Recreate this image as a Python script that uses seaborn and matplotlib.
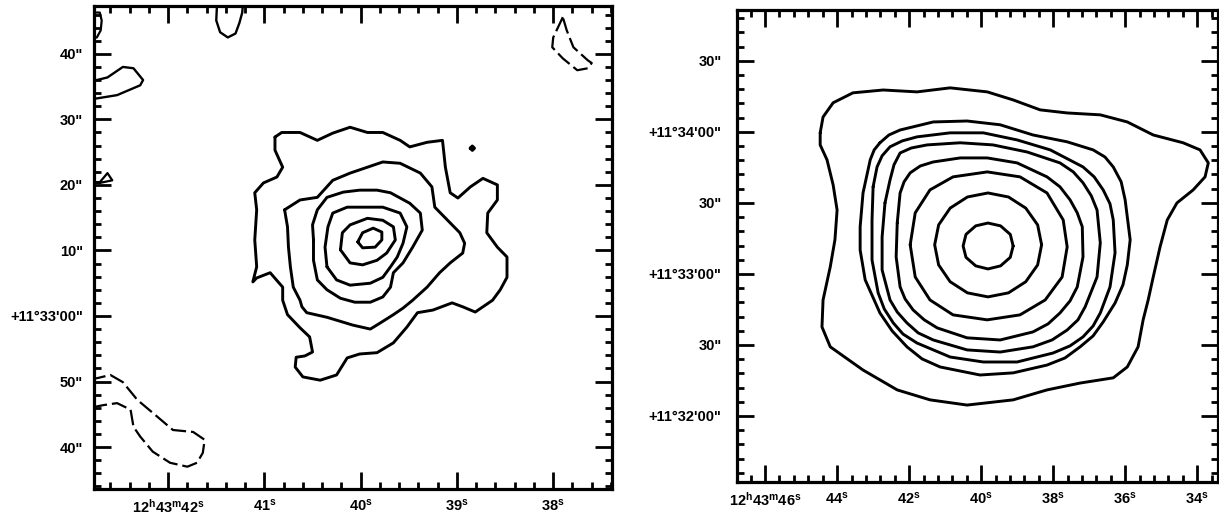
import matplotlib
matplotlib.use("Agg")
import matplotlib.pyplot as plt
from matplotlib.ticker import FixedLocator, FixedFormatter, MultipleLocator
import seaborn as sns

# ---------------- DATA ----------------
# RA in seconds of 12h43m, Dec in arcsec offset from +11d33m00s

l1_ra = [40.89, 40.82, 40.63, 40.45, 40.29, 40.11, 39.93, 39.77, 39.59, 39.49, 39.31, 39.15, 39.12, 39.07, 38.99,
         38.86, 38.73, 38.58, 38.58, 38.68, 38.69, 38.58, 38.48, 38.48, 38.55, 38.63, 38.81, 38.94, 39.05, 39.25,
         39.41, 39.52, 39.66, 39.83, 40.01, 40.14, 40.25, 40.42, 40.60, 40.68, 40.67, 40.58, 40.50, 40.53, 40.63,
         40.76, 40.81, 40.81, 40.94, 41.08, 41.12, 41.08, 41.10, 41.08, 41.10, 41.01, 40.87, 40.81, 40.89]
l1_dec = [27.3, 28.0, 28.0, 26.8, 27.9, 28.8, 28.0, 28.0, 26.8, 25.8, 26.5, 26.8, 22.7, 18.8, 18.0,
          19.7, 21.0, 20.0, 17.7, 15.7, 12.7, 10.5, 9.0, 5.9, 4.0, 2.4, 0.6, 1.4, 2.0, 0.9,
          0.5, -1.7, -4.1, -5.6, -5.8, -6.4, -9.0, -9.8, -9.3, -7.8, -6.3, -6.1, -5.5, -3.2, -1.8,
          0.2, 2.4, 4.4, 6.6, 5.8, 5.2, 7.5, 11.6, 16.2, 18.8, 20.3, 21.2, 22.7, 25.3]

l2_ra = [40.79, 40.63, 40.45, 40.29, 40.11, 39.93, 39.77, 39.59, 39.38, 39.26, 39.23, 39.07, 38.97, 38.92, 38.94,
         39.07, 39.18, 39.31, 39.46, 39.56, 39.66, 39.80, 39.90, 40.08, 40.35, 40.56, 40.61, 40.63, 40.70, 40.73,
         40.75, 40.76]
l2_dec = [16.2, 17.7, 18.1, 20.7, 21.8, 22.7, 23.5, 23.3, 21.8, 19.7, 16.6, 14.2, 12.7, 11.1, 9.6,
          8.1, 6.6, 4.4, 2.4, 1.2, 0.2, -1.1, -2.0, -1.4, -0.2, 0.5, 1.4, 2.4, 4.4, 7.5,
          10.5, 13.6]

l3_ra = [40.49, 40.50, 40.45, 40.35, 40.18, 40.01, 39.83, 39.69, 39.49, 39.38, 39.36, 39.46, 39.56, 39.66, 39.69,
         39.77, 39.90, 40.06, 40.21, 40.35, 40.45, 40.49]
l3_dec = [11.6, 13.9, 16.2, 18.1, 18.9, 19.2, 19.2, 18.8, 17.2, 15.7, 13.1, 10.5, 8.1, 6.6, 4.4,
          2.9, 2.1, 2.1, 2.7, 4.0, 5.5, 8.5]

l4_ra = [40.35, 40.37, 40.34, 40.29, 40.14, 39.93, 39.77, 39.59, 39.52, 39.56, 39.62, 39.69, 39.77, 39.90, 40.11, 40.25]
l4_dec = [7.5, 10.5, 13.6, 15.7, 16.6, 16.6, 16.6, 15.7, 13.6, 11.1, 9.0, 7.5, 5.9, 5.0, 4.7, 5.5]

l5_ra = [40.21, 40.19, 40.11, 39.93, 39.77, 39.66, 39.64, 39.73, 39.83, 39.98, 40.11]
l5_dec = [10.1, 12.7, 13.9, 14.9, 14.6, 13.6, 11.6, 9.6, 8.5, 7.8, 8.1]

l6_ra = [40.03, 39.98, 39.87, 39.78, 39.78, 39.85, 39.98]
l6_dec = [11.3, 12.7, 13.4, 12.8, 11.6, 10.5, 10.4]

dot_ra = [38.86, 38.84, 38.82, 38.84]
dot_dec = [25.6, 25.9, 25.6, 25.3]

top_blob_ra = [41.49, 41.50, 41.46, 41.38, 41.30, 41.26, 41.23, 41.22]
top_blob_dec = [48.2, 45.1, 43.3, 42.5, 43.1, 44.7, 46.3, 48.2]

edge_blob_ra = [42.81, 42.74, 42.63, 42.47, 42.36, 42.26, 42.29, 42.53, 42.74, 42.81]
edge_blob_dec = [36.0, 36.0, 36.4, 38.0, 37.8, 36.0, 35.2, 33.7, 33.2, 33.1]

edge_tri_ra = [42.81, 42.71, 42.63, 42.58, 42.71, 42.81]
edge_tri_dec = [20.4, 20.4, 21.8, 20.7, 20.3, 20.3]

corner_ra = [42.81, 42.71, 42.69, 42.70, 42.74, 42.81]
corner_dec = [46.3, 46.3, 45.1, 43.6, 42.5, 42.4]

neg_bl_ra = [42.81, 42.74, 42.60, 42.47, 42.32, 42.11, 41.95, 41.74, 41.62, 41.64,
             41.70, 41.80, 41.98, 42.16, 42.29, 42.36, 42.39, 42.53, 42.67, 42.81]
neg_bl_dec = [-9.5, -9.5, -9.0, -10.1, -12.8, -15.4, -17.4, -17.7, -18.9, -20.9,
              -22.4, -23.0, -22.4, -20.7, -18.4, -16.9, -14.3, -13.3, -13.6, -14.0]

neg_tr_ra = [37.90, 38.00, 38.01, 37.90, 37.75, 37.64, 37.60, 37.64, 37.79, 37.86]
neg_tr_dec = [45.6, 42.5, 41.0, 39.3, 37.5, 37.8, 38.6, 39.0, 41.0, 43.6]

# Right panel
r1_ra = [44.47, 44.39, 44.11, 43.56, 42.72, 41.78, 40.86, 39.83, 39.11, 38.36, 37.61, 36.69, 35.94, 35.22, 34.39,
         33.92, 33.69, 33.78, 34.11, 34.56, 34.83, 35.03, 35.22, 35.36, 35.50, 35.64, 35.94, 36.33, 37.25, 38.17,
         39.11, 40.39, 41.42, 42.33, 43.28, 44.19, 44.42, 44.39, 44.19, 44.06, 44.00, 44.11, 44.28, 44.47]
r1_dec = [59.6, 66.3, 72.3, 76.5, 77.7, 76.9, 78.6, 76.9, 73.5, 69.3, 68.0, 67.2, 64.2, 58.7, 55.4,
          52.4, 46.9, 41.0, 35.5, 30.0, 22.8, 11.4, -1.3, -11.0, -19.4, -30.8, -39.3, -43.9, -46.1, -49.0,
          -53.2, -55.4, -53.2, -49.0, -40.6, -30.8, -22.4, -11.0, 3.0, 14.4, 27.0, 37.6, 48.2, 54.5]

r2_ra = [42.81, 42.56, 42.25, 41.33, 40.39, 39.47, 38.56, 37.61, 36.89, 36.56, 36.33, 36.11, 36.00, 35.86,
         35.94, 36.06, 36.28, 36.61, 36.89, 37.25, 37.67, 38.17, 39.11, 40.03, 41.14, 41.64, 42.06, 42.47,
         42.81, 43.22, 43.36, 43.36, 43.28, 43.08, 42.97]
r2_dec = [55.4, 58.7, 60.8, 64.2, 64.6, 63.0, 58.7, 55.8, 52.4, 49.4, 45.2, 38.9, 31.3, 14.4,
          3.8, -4.6, -12.3, -20.3, -26.2, -30.8, -35.5, -38.5, -41.8, -42.7, -39.3, -35.9, -30.8, -24.1,
          -16.5, -2.5, 10.1, 19.9, 34.2, 48.2, 52.4]

r3_ra = [43.00, 42.89, 42.75, 42.53, 42.19, 41.78, 40.86, 39.94, 39.00, 38.08, 37.17, 36.86, 36.61, 36.42,
         36.33, 36.28, 36.42, 36.69, 36.89, 37.17, 37.53, 38.00, 39.00, 39.94, 40.86, 41.78, 42.17, 42.44,
         42.69, 42.86, 43.03, 43.03]
r3_dec = [36.8, 45.2, 49.9, 53.7, 56.2, 57.9, 59.6, 59.6, 56.6, 52.4, 45.2, 41.0, 35.5, 29.6,
          22.8, 8.9, -5.5, -16.5, -22.0, -26.6, -30.4, -33.4, -37.2, -37.2, -35.1, -29.2, -25.4, -20.7,
          -14.8, -8.0, 5.9, 22.8]

r4_ra = [42.67, 42.53, 42.42, 42.25, 41.94, 41.50, 40.58, 39.67, 38.72, 37.81, 37.44, 37.17, 36.94, 36.78,
         36.69, 36.78, 37.11, 37.31, 37.61, 38.03, 38.56, 39.47, 40.39, 41.33, 41.75, 42.06, 42.33, 42.53,
         42.75, 42.75]
r4_dec = [30.0, 39.7, 46.1, 51.1, 53.2, 54.5, 55.4, 54.5, 51.5, 46.9, 43.1, 38.5, 33.0, 27.0,
          13.1, -1.3, -13.9, -19.4, -23.7, -27.9, -30.8, -33.0, -32.1, -27.9, -24.9, -20.7, -16.1, -11.0,
          1.7, 15.6]

r5_ra = [42.33, 42.25, 42.14, 41.97, 41.69, 41.33, 40.58, 39.83, 39.00, 38.17, 37.81, 37.53, 37.33, 37.19,
         37.17, 37.33, 37.53, 37.81, 38.14, 38.56, 39.47, 40.39, 41.22, 41.58, 41.89, 42.11, 42.25, 42.36]
r5_dec = [21.5, 34.2, 38.9, 42.7, 45.6, 47.3, 49.0, 49.0, 46.9, 41.0, 36.8, 31.3, 25.8, 19.9,
          7.2, -5.5, -11.4, -16.5, -21.1, -24.5, -27.9, -27.0, -22.8, -19.4, -15.2, -10.6, -5.5, 7.2]

r6_ra = [41.97, 41.83, 41.42, 40.78, 39.83, 38.92, 38.17, 37.72, 37.61, 37.75, 38.22, 38.92, 39.83, 40.78, 41.42, 41.83]
r6_dec = [12.3, 25.8, 35.5, 41.0, 43.1, 41.0, 34.2, 22.8, 11.4, -1.3, -11.0, -17.3, -19.4, -17.3, -11.0, -1.3]

r7_ra = [38.32, 38.43, 38.76, 39.24, 39.81, 40.38, 40.86, 41.18, 41.29, 41.18, 40.86, 40.38, 39.81, 39.24, 38.76, 38.43]
r7_dec = [12.3, 20.7, 27.8, 32.5, 34.2, 32.5, 27.8, 20.7, 12.3, 3.8, -3.3, -8.0, -9.7, -8.0, -3.3, 3.8]

r8_ra = [39.11, 39.19, 39.46, 39.81, 40.15, 40.42, 40.50, 40.42, 40.15, 39.81, 39.46, 39.19]
r8_dec = [11.8, 16.7, 20.3, 21.5, 20.3, 16.7, 11.8, 7.0, 3.4, 2.1, 3.4, 7.0]

# Tick positions / labels
left_xticks = [42, 41, 40, 39, 38]
left_xlabels = [r"12$^{\rm h}$43$^{\rm m}$42$^{\rm s}$", r"41$^{\rm s}$", r"40$^{\rm s}$", r"39$^{\rm s}$", r"38$^{\rm s}$"]
left_yticks = [-20, -10, 0, 10, 20, 30, 40]
left_ylabels = ['40"', '50"', '+11°33\'00"', '10"', '20"', '30"', '40"']

right_xticks = [46, 44, 42, 40, 38, 36, 34]
right_xlabels = [r"12$^{\rm h}$43$^{\rm m}$46$^{\rm s}$", r"44$^{\rm s}$", r"42$^{\rm s}$", r"40$^{\rm s}$",
                 r"38$^{\rm s}$", r"36$^{\rm s}$", r"34$^{\rm s}$"]
right_yticks = [-60, -30, 0, 30, 60, 90]
right_ylabels = ['+11°32\'00"', '30"', '+11°33\'00"', '30"', '+11°34\'00"', '30"']

# ---------------- STYLE ----------------
sns.set_theme(style="ticks")
plt.rcParams["font.family"] = ["Liberation Sans", "DejaVu Sans"]
plt.rcParams["font.weight"] = "bold"
plt.rcParams["mathtext.fontset"] = "custom"
plt.rcParams["mathtext.rm"] = "Liberation Sans:bold"
plt.rcParams["mathtext.it"] = "Liberation Sans:bold"
plt.rcParams["mathtext.bf"] = "Liberation Sans:bold"
plt.rcParams["text.color"] = "black"
plt.rcParams["xtick.color"] = "black"
plt.rcParams["ytick.color"] = "black"

fig = plt.figure(figsize=(12.19, 5.17), dpi=100)
axL = fig.add_axes([0.0771, 0.0542, 0.4249, 0.9342])
axR = fig.add_axes([0.6046, 0.0677, 0.3946, 0.9130])


def draw(ax, ra, dec, closed=True, dashed=False, lw=2.1):
    x = list(ra)
    y = list(dec)
    if closed:
        x.append(x[0])
        y.append(y[0])
    kw = dict(color="black", linewidth=lw, solid_joinstyle="round", solid_capstyle="round",
              dash_joinstyle="round", dash_capstyle="butt")
    if dashed:
        kw["linestyle"] = (0, (7, 2.2))
    sns.lineplot(x=x, y=y, sort=False, estimator=None, ax=ax, legend=False, **kw)


# left panel
for ra, dec in [(l1_ra, l1_dec), (l2_ra, l2_dec), (l3_ra, l3_dec), (l4_ra, l4_dec),
                (l5_ra, l5_dec), (l6_ra, l6_dec)]:
    draw(axL, ra, dec)
draw(axL, dot_ra, dot_dec, lw=2.4)
draw(axL, top_blob_ra, top_blob_dec, closed=False, lw=1.7)
draw(axL, edge_blob_ra, edge_blob_dec, closed=False, lw=1.7)
draw(axL, edge_tri_ra, edge_tri_dec, closed=False, lw=1.6)
draw(axL, corner_ra, corner_dec, closed=False, lw=1.6)
draw(axL, neg_bl_ra, neg_bl_dec, closed=False, dashed=True, lw=1.6)
draw(axL, neg_tr_ra, neg_tr_dec, dashed=True, lw=1.6)

# right panel
for ra, dec in [(r1_ra, r1_dec), (r2_ra, r2_dec), (r3_ra, r3_dec), (r4_ra, r4_dec),
                (r5_ra, r5_dec), (r6_ra, r6_dec), (r7_ra, r7_dec), (r8_ra, r8_dec)]:
    draw(axR, ra, dec)


def style_axis(ax, xlim, ylim, xt, xl, yt, yl, xminor, yminor, ypad):
    ax.set_xlim(*xlim)
    ax.set_ylim(*ylim)
    ax.xaxis.set_major_locator(FixedLocator(xt))
    ax.xaxis.set_major_formatter(FixedFormatter(xl))
    ax.yaxis.set_major_locator(FixedLocator(yt))
    ax.yaxis.set_major_formatter(FixedFormatter(yl))
    ax.xaxis.set_minor_locator(MultipleLocator(xminor))
    ax.yaxis.set_minor_locator(MultipleLocator(yminor))
    ax.set_xlabel("")
    ax.set_ylabel("")
    for sp in ax.spines.values():
        sp.set_visible(True)
        sp.set_linewidth(2.3)
        sp.set_color("black")
    ax.tick_params(which="both", direction="in", top=True, right=True, color="black", labelcolor="black")
    ax.tick_params(which="major", length=12, width=2.0)
    ax.tick_params(which="minor", length=5, width=2.0)
    ax.tick_params(axis="x", which="major", labelsize=10.5, pad=6)
    ax.tick_params(axis="y", which="major", labelsize=10.5, pad=ypad)
    for lab in ax.get_xticklabels() + ax.get_yticklabels():
        lab.set_fontweight("bold")
    ax.set_facecolor("white")


style_axis(axL, (42.77, 37.39), (-26.4, 47.3), left_xticks, left_xlabels,
           left_yticks, left_ylabels, 0.2, 2, 8)
style_axis(axR, (46.78, 33.42), (-87.9, 111.5), right_xticks, right_xlabels,
           right_yticks, right_ylabels, 0.4, 6, 11)

fig.savefig("out.png", dpi=100, facecolor="white")
